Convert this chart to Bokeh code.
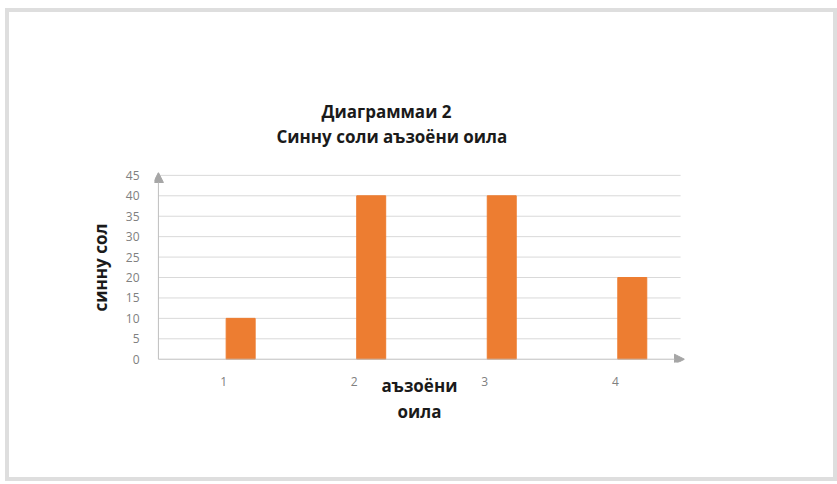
from bokeh.plotting import figure
from bokeh.models import ColumnDataSource, FixedTicker, Arrow, NormalHead, Title
from bokeh.transform import dodge
from bokeh.embed import file_html
from bokeh.resources import INLINE

# ---- data ----
members = [1, 2, 3, 4]            # аъзоёни оила
years = [10, 40, 40, 20]          # синну сол
y_ticks = [0, 5, 10, 15, 20, 25, 30, 35, 40, 45]
title1 = "Диаграммаи 2"
title2 = "Синну соли аъзоёни оила"
x_title = "аъзоёни\nоила"
y_title = "синну сол"

FONT = "Open Sans"
GRAY_TXT = "#808080"
AXIS_GRAY = "#bfbfbf"

X0, XG, X1 = 0.5, 4.5, 4.53   # axis start, grid end, arrow tip
Y0, Y1 = 0, 45.7              # axis start, arrow tip

W, H = 832, 473
p = figure(width=W, height=H, output_backend="svg", toolbar_location=None,
           x_range=(X0 - 0.03, X1), y_range=(Y0 - 0.8, Y1),
           min_border_left=145, min_border_right=157,
           min_border_top=160, min_border_bottom=123)
p.styles = {"border": "4px solid #dedede", "margin": "8px 0px 0px 5px"}
p.outline_line_color = None
p.background_fill_color = "white"
p.border_fill_color = "white"
p.xgrid.grid_line_color = None
p.ygrid.grid_line_color = None

# horizontal grid lines at the y ticks (from the axis to the end of the categories)
grid_y = [t for t in y_ticks if t > Y0]
p.segment(x0=[X0] * len(grid_y), x1=[XG] * len(grid_y), y0=grid_y, y1=grid_y,
          line_color="#d9d9d9", line_width=1)

src = ColumnDataSource(dict(member=members, years=years))
p.vbar(x=dodge("member", 0.13, range=p.x_range), top="years", width=0.222,
       bottom=0, source=src, fill_color="#ED7D31", line_color="#ED7D31")

# axes (labels only; the axis lines are the arrows below)
p.xaxis.ticker = FixedTicker(ticks=members)
p.yaxis.ticker = FixedTicker(ticks=y_ticks)
for ax in (p.xaxis[0], p.yaxis[0]):
    ax.axis_line_color = None
    ax.major_tick_line_color = None
    ax.minor_tick_line_color = None
    ax.major_label_text_font = FONT
    ax.major_label_text_font_size = "12px"
    ax.major_label_text_color = GRAY_TXT
    ax.axis_label_text_font = FONT
    ax.axis_label_text_font_style = "bold"
    ax.axis_label_text_font_size = "17px"
    ax.axis_label_text_color = "#1a1a1a"

p.yaxis.major_label_standoff = 9
p.yaxis.axis_label = y_title
p.yaxis.axis_label_standoff = 11

p.xaxis.major_label_standoff = 8
p.xaxis.axis_label = x_title
p.xaxis.axis_label_standoff = -15
p.xaxis.axis_label_text_line_height = 1.15

# axis lines with arrow heads
head_kw = dict(size=10, fill_color="#a6a6a6", line_color="#a6a6a6")
p.add_layout(Arrow(x_start=X0, y_start=Y0, x_end=X1, y_end=Y0,
                   line_color=AXIS_GRAY, line_width=1, end=NormalHead(**head_kw)))
p.add_layout(Arrow(x_start=X0, y_start=Y0, x_end=X0, y_end=Y1,
                   line_color=AXIS_GRAY, line_width=1, end=NormalHead(**head_kw)))

# titles (first added sits closest to the plot)
p.add_layout(Title(text=title2, align="left", offset=122, standoff=50,
                   text_font=FONT, text_font_style="bold", text_font_size="17px",
                   text_color="#1a1a1a"), "above")
p.add_layout(Title(text=title1, align="left", offset=167, standoff=-50,
                   text_font=FONT, text_font_style="bold", text_font_size="17px",
                   text_color="#1a1a1a"), "above")

open("out.html", "w").write(file_html(p, INLINE))
